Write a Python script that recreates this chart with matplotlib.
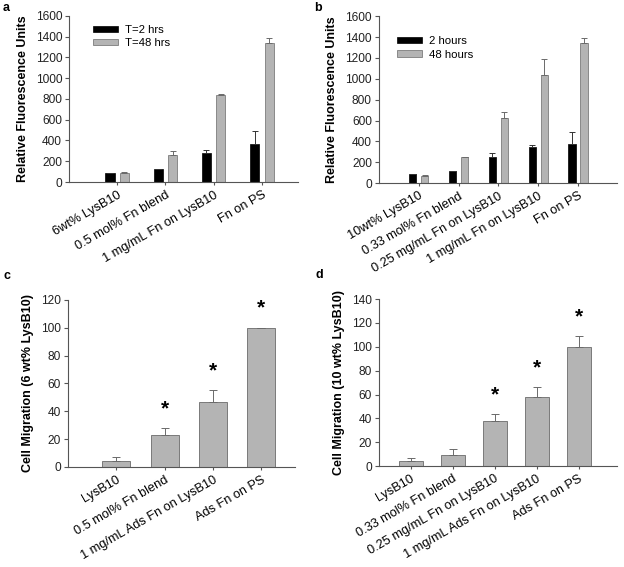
import numpy as np
import matplotlib
matplotlib.use('Agg')
import matplotlib.pyplot as plt

plt.rcParams['font.family'] = ['Liberation Sans', 'DejaVu Sans']

# panel a
cats_a = ['6wt% LysB10', '0.5 mol% Fn blend', '1 mg/mL Fn on LysB10', 'Fn on PS']
a_2h = [82, 125, 282, 368]
a_2h_err = [0, 0, 28, 122]
a_48h = [86, 262, 835, 1341]
a_48h_err = [10, 32, 13, 45]

# panel b
cats_b = ['10wt% LysB10', '0.33 mol% Fn blend', '0.25 mg/mL Fn on LysB10',
          '1 mg/mL Fn on LysB10', 'Fn on PS']
b_2h = [83, 118, 249, 351, 371]
b_2h_err = [0, 0, 42, 10, 115]
b_48h = [67, 246, 626, 1035, 1339]
b_48h_err = [10, 6, 51, 150, 48]

# panel c
cats_c = ['LysB10', '0.5 mol% Fn blend', '1 mg/mL Ads Fn on LysB10', 'Ads Fn on PS']
c_vals = [4, 23, 47, 100]
c_err = [3, 5, 8, 0]
c_star = [False, True, True, True]

# panel d
cats_d = ['LysB10', '0.33 mol% Fn blend', '0.25 mg/mL Fn on LysB10',
          '1 mg/mL Ads Fn on LysB10', 'Ads Fn on PS']
d_vals = [4.2, 8.9, 38, 58, 100]
d_err = [2.5, 5, 6, 8, 9]
d_star = [False, False, True, True, True]

GRAY = '#b4b4b4'
EDGE = '#6a6a6a'
AXC = '#555555'

fig = plt.figure(figsize=(6.24, 5.67), dpi=100)


def style(ax, cats, ylabel):
    for s in ['top', 'right']:
        ax.spines[s].set_visible(False)
    for s in ['left', 'bottom']:
        ax.spines[s].set_color(AXC)
        ax.spines[s].set_linewidth(0.8)
    ax.set_xticks(np.arange(len(cats)))
    ax.set_xticklabels(cats, rotation=30, ha='right', rotation_mode='anchor', fontsize=9.2)
    ax.tick_params(axis='x', length=2, color=AXC, pad=3)
    ax.tick_params(axis='y', length=3, color=AXC, labelsize=8.6, labelcolor='#222222', pad=2)
    ax.set_ylabel(ylabel, fontsize=9, fontweight='bold', labelpad=5)


def grouped(ax, cats, v1, e1, v2, e2, labels, lpos):
    x = np.arange(len(cats))
    w = 0.19
    off = 0.15
    ek = dict(ecolor='#333333', elinewidth=0.7, capsize=2.5, capthick=0.7)
    e1 = [np.zeros(len(e1)), e1]
    e2 = [np.zeros(len(e2)), e2]
    ax.bar(x - off, v1, w, color='black', edgecolor='black', linewidth=0.5,
           yerr=e1, error_kw=ek, label=labels[0], zorder=2)
    ax.bar(x + off, v2, w, color=GRAY, edgecolor=EDGE, linewidth=0.5,
           yerr=e2, error_kw=dict(ek, ecolor=EDGE), label=labels[1], zorder=2)
    ax.set_ylim(0, 1600)
    ax.set_yticks(range(0, 1601, 200))
    ax.legend(loc='upper left', bbox_to_anchor=lpos, frameon=False, fontsize=8.2,
              handlelength=2.2, handleheight=0.45, handletextpad=0.6, labelspacing=0.3,
              borderaxespad=0, borderpad=0)


def single(ax, cats, vals, err, stars, star_y_off, ymax, step):
    x = np.arange(len(cats))
    ax.bar(x, vals, 0.58, color=GRAY, edgecolor=EDGE, linewidth=0.6,
           yerr=[np.zeros(len(err)), err],
           error_kw=dict(ecolor=EDGE, elinewidth=0.7, capsize=3, capthick=0.7), zorder=2)
    for xi, v, e, s in zip(x, vals, err, stars):
        if s:
            ax.text(xi, v + e + star_y_off, '*', ha='center', va='center',
                    fontsize=15, fontweight='bold')
    ax.set_ylim(0, ymax)
    ax.set_yticks(range(0, ymax + 1, step))


ax_a = fig.add_axes([0.1106, 0.679, 0.367, 0.293])
grouped(ax_a, cats_a, a_2h, a_2h_err, a_48h, a_48h_err, ['T=2 hrs', 'T=48 hrs'], (0.105, 0.945))
ax_a.set_xlim(-1, 3.75)
style(ax_a, cats_a, 'Relative Fluorescence Units')

ax_b = fig.add_axes([0.607, 0.677, 0.381, 0.2945])
grouped(ax_b, cats_b, b_2h, b_2h_err, b_48h, b_48h_err, ['2 hours', '48 hours'], (0.076, 0.88))
ax_b.set_xlim(-1, 4.96)
style(ax_b, cats_b, 'Relative Fluorescence Units')

ax_c = fig.add_axes([0.109, 0.1764, 0.364, 0.2945])
single(ax_c, cats_c, c_vals, c_err, c_star, 14, 120, 20)
ax_c.set_xlim(-1, 3.7)
style(ax_c, cats_c, 'Cell Migration (6 wt% LysB10)')

ax_d = fig.add_axes([0.607, 0.178, 0.381, 0.2945])
single(ax_d, cats_d, d_vals, d_err, d_star, 16, 140, 20)
ax_d.set_xlim(-0.76, 4.9)
style(ax_d, cats_d, 'Cell Migration (10 wt% LysB10)')

for lbl, (px, py) in zip('abcd', [(3, 8), (314, 8), (3, 276), (315, 275)]):
    fig.text(px / 624, 1 - py / 567, lbl, fontsize=9, fontweight='bold', va='center')

fig.savefig('out.png', dpi=100)
